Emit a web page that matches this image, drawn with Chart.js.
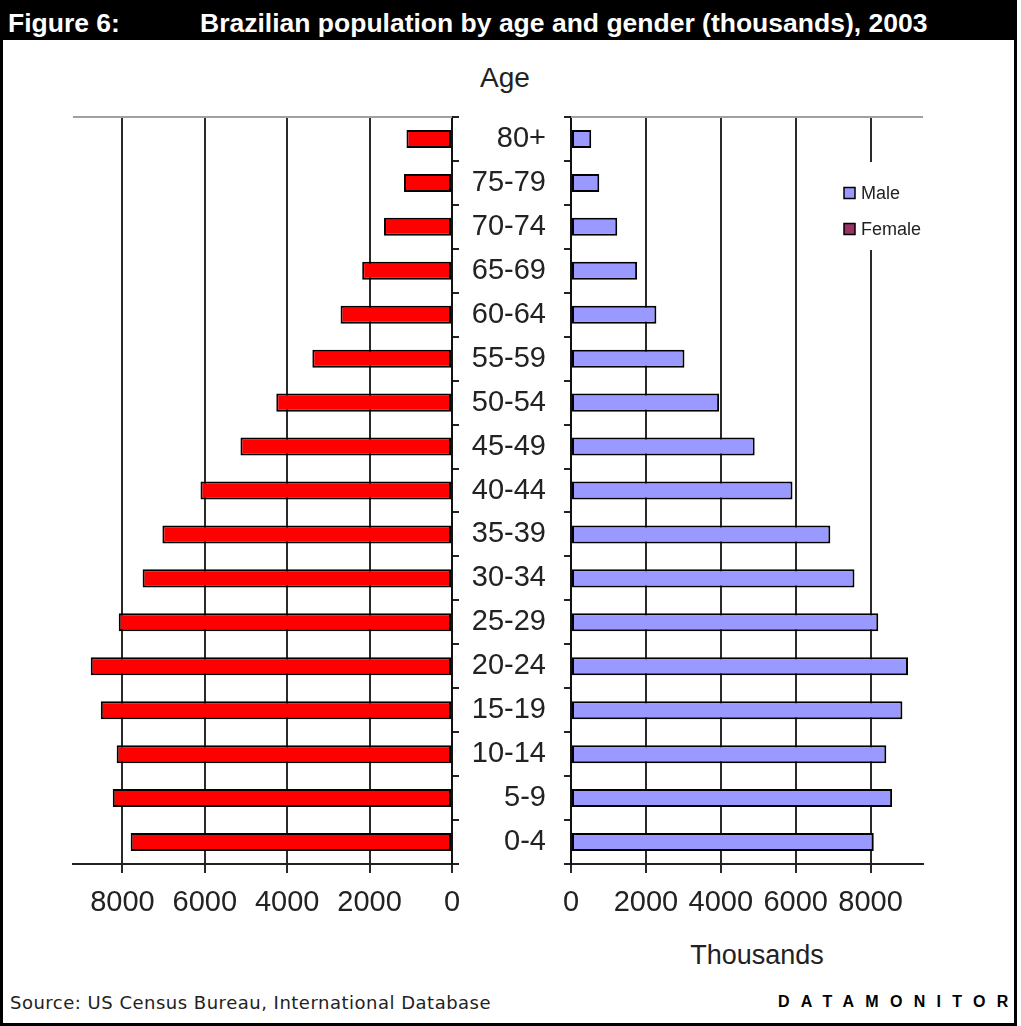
<!DOCTYPE html>
<html>
<head>
<meta charset="utf-8">
<script src="https://cdn.jsdelivr.net/npm/chart.js@4.4.1/dist/chart.umd.min.js"></script>
<style>
body { margin:0; background:#fff; }
#frame { position:absolute; left:0; top:0; width:1017px; height:1026px; box-sizing:border-box; border:3px solid #000; }
#titlebar { position:absolute; left:0; top:0; width:1017px; height:40px; background:#000; }
.ttl { position:absolute; top:3px; color:#fff; font:bold 26.5px 'Liberation Sans', Arial, sans-serif; line-height:40px; white-space:nowrap; }
.lbl { position:absolute; color:#222; font:28px 'Liberation Sans', Arial, sans-serif; line-height:30px; white-space:nowrap; transform:translateX(-50%); }
#source { position:absolute; left:10px; top:992px; color:#222; font:18px 'DejaVu Sans', Verdana, sans-serif; letter-spacing:0.5px; white-space:nowrap; }
#brand { position:absolute; left:778px; top:993px; color:#000; font:bold 16px 'Liberation Sans', Arial, sans-serif; letter-spacing:11.3px; white-space:nowrap; }
canvas { position:absolute; }
</style>
</head>
<body>
<div id="frame"></div>
<div id="titlebar"></div>
<div class="ttl" style="left:8px">Figure 6:</div>
<div class="ttl" style="left:200px">Brazilian population by age and gender (thousands), 2003</div>
<div class="lbl" style="left:505px; top:63px">Age</div>
<div class="lbl" style="left:757px; top:940px; font-size:27px">Thousands</div>
<canvas id="femaleChart" width="400" height="834" style="left:62px; top:100px"></canvas>
<canvas id="maleChart" width="500" height="834" style="left:440px; top:100px"></canvas>
<div id="source">Source: US Census Bureau, International Database</div>
<div id="brand">DATAMONITOR</div>

<script>
// population in thousands, youngest group first
var ages = ['0-4','5-9','10-14','15-19','20-24','25-29','30-34','35-39','40-44','45-49','50-54','55-59','60-64','65-69','70-74','75-79','80+'];
var female = [7800, 8235, 8140, 8525, 8770, 8090, 7510, 7030, 6105, 5135, 4265, 3390, 2705, 2180, 1650, 1165, 1105];
var male = [8085, 8575, 8420, 8850, 9000, 8205, 7570, 6925, 5915, 4905, 3955, 3030, 2280, 1765, 1235, 755, 540];
var xTicks = [0, 2000, 4000, 6000, 8000];

var tickFont = { family: 'Liberation Sans', size: 29 };

var topLine = {
    id: 'topLine',
    beforeDatasetsDraw: function(chart) {
        var a = chart.chartArea, c = chart.ctx;
        c.save();
        c.strokeStyle = '#a0a0a0';
        c.lineWidth = 2;
        c.beginPath();
        c.moveTo(a.left, a.top);
        c.lineTo(a.right, a.top);
        c.stroke();
        c.restore();
    }
};

var legendItems = [
    { label: 'Male', color: '#9999FF' },
    { label: 'Female', color: '#993366' }
];

var legendBox = {
    id: 'legendBox',
    afterDraw: function(chart) {
        var a = chart.chartArea, c = chart.ctx;
        var x = a.right - 85, y = a.top + 45;
        c.save();
        c.fillStyle = '#fff';
        c.fillRect(x, y, 92, 88);
        c.font = '18px "Liberation Sans"';
        c.textBaseline = 'middle';
        legendItems.forEach(function(it, i) {
            var cy = y + 31 + i * 36;
            c.fillStyle = it.color;
            c.fillRect(x + 6, cy - 5.5, 11, 11);
            c.strokeStyle = '#000';
            c.lineWidth = 1.5;
            c.strokeRect(x + 6, cy - 5.5, 11, 11);
            c.fillStyle = '#222';
            c.fillText(it.label, x + 23, cy + 1);
        });
        c.restore();
    }
};

function xScale(max, reverse) {
    return {
        type: 'linear',
        min: 0,
        max: max,
        reverse: reverse,
        position: 'bottom',
        afterBuildTicks: function(s) { s.ticks = xTicks.map(function(v) { return { value: v }; }); },
        afterFit: function(s) { s.height = 70; s.paddingLeft = 0; s.paddingRight = 0; },
        grid: { color: '#2a2a2a', lineWidth: 2, tickLength: 9 },
        border: { color: '#222', width: 2 },
        ticks: {
            font: tickFont, color: '#222', padding: 13, maxRotation: 0, autoSkip: false,
            callback: function(v) { return String(v); }
        }
    };
}

function yScale(pos, width, showLabels) {
    return {
        type: 'category',
        reverse: true,
        position: pos,
        afterFit: function(s) { s.width = width; s.paddingTop = 0; s.paddingBottom = 0; },
        grid: { offset: true, drawOnChartArea: false, tickLength: 7, color: '#222', lineWidth: 2 },
        border: { color: '#111', width: 2 },
        ticks: { display: showLabels, font: tickFont, color: '#222', padding: 18, autoSkip: false }
    };
}

new Chart(document.getElementById('femaleChart'), {
    type: 'bar',
    data: {
        labels: ages,
        datasets: [{
            label: 'Female',
            data: female,
            backgroundColor: '#FF0000',
            borderColor: '#000',
            borderWidth: 2,
            borderSkipped: false,
            barPercentage: 0.41,
            categoryPercentage: 1.0
        }]
    },
    options: {
        indexAxis: 'y',
        responsive: false,
        animation: false,
        layout: { padding: { left: 11, top: 17, right: 0, bottom: 0 } },
        plugins: { legend: { display: false }, tooltip: { enabled: false } },
        scales: {
            x: xScale(9200, true),
            y: yScale('right', 10, false)
        }
    },
    plugins: [topLine]
});

new Chart(document.getElementById('maleChart'), {
    type: 'bar',
    data: {
        labels: ages,
        datasets: [{
            label: 'Male',
            data: male,
            backgroundColor: '#9999FF',
            borderColor: '#000',
            borderWidth: 2,
            borderSkipped: false,
            barPercentage: 0.41,
            categoryPercentage: 1.0
        }]
    },
    options: {
        indexAxis: 'y',
        responsive: false,
        animation: false,
        layout: { padding: { left: 0, top: 17, right: 17, bottom: 0 } },
        plugins: { legend: { display: false }, tooltip: { enabled: false } },
        scales: {
            x: xScale(9400, false),
            y: yScale('left', 131, true)
        }
    },
    plugins: [topLine, legendBox]
});
</script>
</body>
</html>
